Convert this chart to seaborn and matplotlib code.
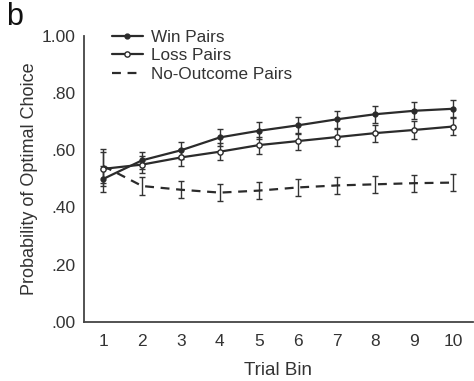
import matplotlib
matplotlib.use("Agg")
import matplotlib.pyplot as plt
import seaborn as sns
import pandas as pd
import numpy as np

bins = [1, 2, 3, 4, 5, 6, 7, 8, 9, 10]
win = [0.50, 0.565, 0.60, 0.645, 0.668, 0.687, 0.708, 0.726, 0.738, 0.745]
loss = [0.535, 0.55, 0.575, 0.595, 0.618, 0.632, 0.646, 0.66, 0.671, 0.683]
noout = [0.545, 0.475, 0.462, 0.452, 0.459, 0.47, 0.477, 0.481, 0.485, 0.487]
win_err = [0.045, 0.03, 0.03, 0.03, 0.03, 0.03, 0.03, 0.03, 0.03, 0.03]
loss_err = [0.06, 0.03, 0.03, 0.03, 0.03, 0.03, 0.03, 0.03, 0.03, 0.03]
noout_err = [0.06, 0.03, 0.03, 0.03, 0.03, 0.03, 0.03, 0.03, 0.03, 0.03]
series = ["Win Pairs", "Loss Pairs", "No-Outcome Pairs"]
ytick_labels = [".00", ".20", ".40", ".60", ".80", "1.00"]

sns.set_style("white")
plt.rcParams["font.family"] = ["Liberation Sans", "DejaVu Sans"]

fig = plt.figure(figsize=(4.74, 3.81), dpi=100)
ax = fig.add_axes([0.177, 0.155, 0.82, 0.751])

col = "#2b2b2b"
styles = {
    "Win Pairs": dict(marker="o", ms=3.5, mfc=col, mec=col, ls="-"),
    "Loss Pairs": dict(marker="o", ms=3.8, mfc="white", mec=col, ls="-"),
    "No-Outcome Pairs": dict(marker=None, ms=0, mfc=col, mec=col, ls=(0, (4, 3))),
}
vals = {"Win Pairs": win, "Loss Pairs": loss, "No-Outcome Pairs": noout}
errs = {"Win Pairs": win_err, "Loss Pairs": loss_err, "No-Outcome Pairs": noout_err}

for name in series:
    df = pd.DataFrame({"bin": bins, "p": vals[name]})
    st = styles[name]
    ax.errorbar(bins, vals[name], yerr=errs[name], fmt="none", ecolor="#333333",
                elinewidth=1.0, capsize=2.0, capthick=1.0, zorder=2)
    sns.lineplot(data=df, x="bin", y="p", ax=ax, color=col, linewidth=1.6,
                 linestyle=st["ls"], marker=st["marker"], markersize=st["ms"],
                 markerfacecolor=st["mfc"], markeredgecolor=st["mec"],
                 markeredgewidth=1.0, label=name, zorder=3)

ax.set_xlim(0.5, 10.5)
ax.set_ylim(0, 1.0)
ax.set_xticks(bins)
ax.set_xticklabels([str(b) for b in bins])
ax.set_xticks(np.arange(0.5, 10.6, 1.0), minor=True)
ax.tick_params(axis="x", which="major", length=0, pad=9, labelsize=12.5, colors="#333333")
ax.tick_params(axis="x", which="minor", length=3, width=1, color="#444444", direction="out")
ax.set_yticks([0, 0.2, 0.4, 0.6, 0.8, 1.0])
ax.set_yticklabels(ytick_labels)
ax.tick_params(axis="y", which="major", length=3, width=1, color="#444444", direction="out",
               labelsize=12.5, colors="#333333", pad=3)
ax.tick_params(axis="y", colors="#444444", labelcolor="#333333")

for s in ["top", "right"]:
    ax.spines[s].set_visible(False)
for s in ["left", "bottom"]:
    ax.spines[s].set_color("#444444")
    ax.spines[s].set_linewidth(1.3)

ax.set_xlabel("Trial Bin", fontsize=13.5, color="#333333", labelpad=9)
ax.set_ylabel("Probability of Optimal Choice", fontsize=13, color="#333333", labelpad=3)

leg = ax.legend(loc="upper left", bbox_to_anchor=(0.055, 1.045), frameon=False,
                fontsize=12.3, handlelength=1.8, handletextpad=0.45, labelspacing=0.2,
                borderaxespad=0.0)
for t in leg.get_texts():
    t.set_color("#333333")

fig.text(0.012, 0.995, "b", fontsize=22, va="top", ha="left", color="#111111")

fig.savefig("out.png", dpi=100)
